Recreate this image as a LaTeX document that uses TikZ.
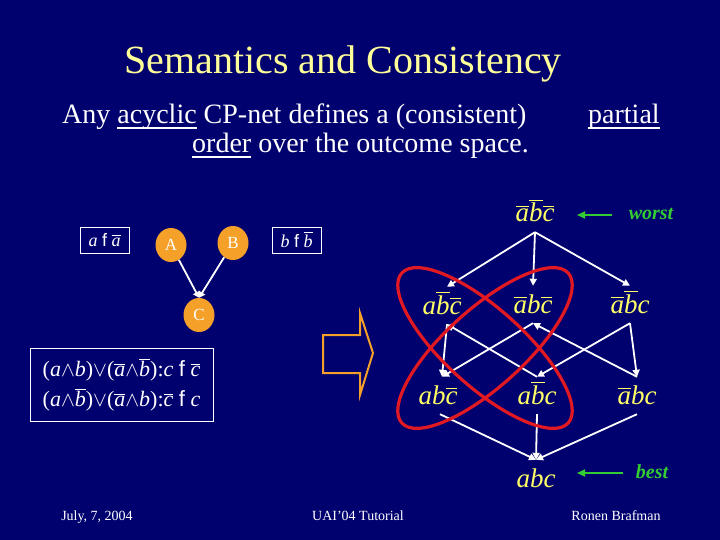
\documentclass[tikz,border=0pt]{standalone}
\usepackage{fontspec}
\setmainfont{Liberation Serif}
\newfontfamily\arialf{Liberation Sans}
\usetikzlibrary{shapes.geometric,arrows.meta}
\definecolor{bgblue}{RGB}{0,0,110}
\definecolor{titley}{RGB}{255,255,153}
\definecolor{laty}{RGB}{255,255,102}
\definecolor{orng}{RGB}{245,160,40}
\definecolor{grn}{RGB}{51,204,51}
\definecolor{redl}{RGB}{225,25,35}
% overline helpers
\newcommand{\ob}[1]{\leavevmode\vbox{\hrule height 1pt\kern 2.5pt\hbox{#1}}}
\newcommand{\obs}[1]{\leavevmode\vbox{\hrule height 0.8pt\kern 1.8pt\hbox{#1}}}
\newcommand{\myul}[1]{\setbox0\hbox{#1}\rlap{\rule[-5pt]{\wd0}{1.5pt}}\box0\relax}
\newcommand{\prefsym}{{\arialf f}}
\begin{document}
\begin{tikzpicture}[x=1pt,y=-1pt,
  lat/.style={anchor=base,text=laty,font=\fontsize{27}{30}\selectfont\itshape,
    inner xsep=0pt,inner ysep=10pt,text height=17pt,text depth=0pt},
  edge/.style={draw=white,line width=1.8pt,-{Triangle[length=7pt,width=7pt]}},
  netarr/.style={draw=white,line width=1.8pt,-{Triangle[length=6pt,width=7pt]}},
  cpn/.style={ellipse,fill=orng,minimum width=31pt,minimum height=34pt,inner sep=0pt,
    text=white,font=\fontsize{17}{17}\selectfont},
  pbox/.style={draw=white,line width=0.8pt,minimum width=49pt,minimum height=26pt,
    inner sep=0pt,text=white,font=\fontsize{18}{18}\selectfont},
  cpt/.style={draw=white,line width=0.8pt,minimum width=183pt,minimum height=73pt,
    inner xsep=2pt,inner ysep=0pt,text=white,align=left,font=\fontsize{22}{30}\selectfont},
  garrow/.style={draw=grn,line width=1.8pt,-{Triangle[length=8pt,width=7pt]}},
  glabel/.style={anchor=base,text=grn,font=\fontsize{20}{20}\selectfont\bfseries\itshape},
  body/.style={anchor=base west,text=white,font=\fontsize{28}{30}\selectfont,inner sep=0pt},
  foot/.style={anchor=base,text=white,font=\fontsize{14}{14}\selectfont,inner sep=0pt},
  redring/.style={draw=redl,line width=3.2pt}
]
\fill[bgblue] (0,0) rectangle (720,540);
\useasboundingbox (0,0) rectangle (720,540);

% title and body
\node[anchor=base,text=titley,font=\fontsize{40}{40}\selectfont,inner sep=0pt] (title) at (343,74) {Semantics and Consistency};
\node[body] (l1) at (62,124) {Any \myul{acyclic} CP-net defines a (consistent)};
\node[body] (l1b) at (588,124) {\myul{partial}};
\node[body] (l2) at (192,153) {\myul{order} over the outcome space.};

% CP-net
\node[pbox] (pa) at (104.5,240) {\textit{a} \prefsym\ \obs{\textit{a}}};
\node[pbox] (pb) at (296.5,240) {\textit{b} \prefsym\ \obs{\textit{b}}};
\node[cpn] (A) at (171,245) {A};
\node[cpn] (B) at (233,243) {B};
\node[cpn] (C) at (199,315) {C};
\draw[netarr] (A) -- (C.north);
\draw[netarr] (B) -- (C.north);

\node[cpt] (tab) at (121.5,385) {%
(\textit{a}$\wedge$\textit{b})$\vee$(\obs{\textit{a}}$\wedge$\obs{\textit{b}}):\textit{c} \prefsym\ \obs{\textit{c}}\\
(\textit{a}$\wedge$\obs{\textit{b}})$\vee$(\obs{\textit{a}}$\wedge$\textit{b}):\obs{\textit{c}} \prefsym\ \textit{c}};

% big hollow arrow
\draw[draw=orng,line width=2pt,line join=miter]
  (323,335) -- (360,335) -- (360,313) -- (373,353) -- (360,395) -- (360,373) -- (323,373) -- cycle;

% lattice labels
\node[lat] (top) at (535,222) {\ob{a}\ob{b}\ob{c}};
\node[lat] (L2) at (442,314) {a\ob{b}\ob{c}};
\node[lat] (M2) at (533,313) {\ob{a}b\ob{c}};
\node[lat] (R2) at (630,313) {\ob{a}\ob{b}c};
\node[lat] (L3) at (438,404) {ab\ob{c}};
\node[lat] (M3) at (537,404) {a\ob{b}c};
\node[lat] (R3) at (637,404) {\ob{a}bc};
\node[lat] (bot) at (536,487) {abc};

% lattice edges
\draw[edge] (top.south) -- ([xshift=5pt]L2.north);
\draw[edge] (top.south) -- (M2.north);
\draw[edge] (top.south) -- (R2.north);
\draw[edge] ([xshift=5pt]L2.south) -- ([xshift=4pt]L3.north);
\draw[edge] (M3.north) -- ([xshift=5pt]L2.south);
\draw[edge] (R3.north) -- (M2.south);
\draw[edge] (M2.south) -- ([xshift=4pt]L3.north);
\draw[edge] (R2.south) -- (M3.north);
\draw[edge] (R2.south) -- (R3.north);
\draw[edge] ([xshift=2pt]L3.south) -- (bot.north);
\draw[edge] (M3.south) -- (bot.north);
\draw[edge] (R3.south) -- (bot.north);

% red rings
\begin{scope}[rotate around={-42:(485,348)}]
  \draw[redring] (485,348) ellipse [x radius=112, y radius=39];
\end{scope}
\begin{scope}[rotate around={42:(485,348)}]
  \draw[redring] (485,348) ellipse [x radius=112, y radius=39];
\end{scope}

% worst / best
\node[glabel] (worst) at (651,220) {worst};
\node[glabel] (best) at (652,478) {best};
\coordinate (wt) at (612,215);
\coordinate (wh) at (577,215);
\coordinate (bt) at (623,473);
\coordinate (bh) at (577,473);
\draw[garrow] (wt) -- (wh);
\draw[garrow] (bt) -- (bh);

% footer
\node[foot] (f1) at (97,520) {July, 7, 2004};
\node[foot] (f2) at (358,520) {UAI'04 Tutorial};
\node[foot] (f3) at (616,520) {Ronen Brafman};
\end{tikzpicture}
\end{document}
